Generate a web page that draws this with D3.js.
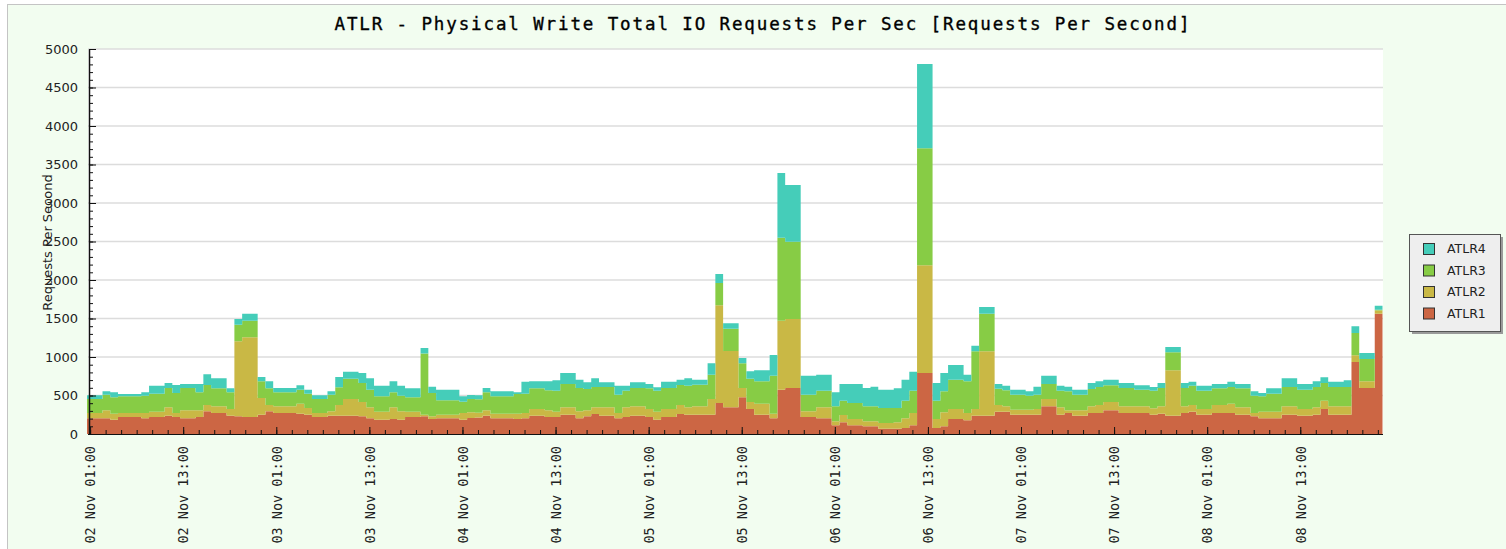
<!DOCTYPE html>
<html>
<head>
<meta charset="utf-8">
<script src="https://cdn.jsdelivr.net/npm/d3@7"></script>
<style>
body { margin: 0; background: #fff; }
</style>
</head>
<body>
<svg id="chart" width="1506" height="549"></svg>
<script>
let series = ["ATLR1", "ATLR2", "ATLR3", "ATLR4"]
let colors = ["#cc6644", "#c9b845", "#87cc45", "#45cdb9"]

// hourly snapshots, starting 02 Nov around 01:00
let atlr1 = [204,204,204,186,221,221,221,204,221,221,238,221,204,204,221,294,273,273,238,229,
  221,221,251,294,273,273,273,264,251,221,221,238,238,238,238,229,204,186,186,195,
  186,221,221,229,195,204,204,204,186,208,215,238,204,204,204,195,204,238,238,221,
  221,251,251,204,229,260,238,238,204,221,238,238,221,186,221,221,260,251,251,251,
  251,403,346,346,476,325,251,251,204,576,598,598,221,221,204,204,113,152,113,113,
  100,100,69,69,69,78,113,792,792,78,100,195,195,178,238,238,238,290,290,251,
  251,251,251,359,359,251,273,238,238,273,273,307,307,273,273,273,273,251,264,238,
  238,273,290,251,251,273,273,273,251,251,229,204,204,204,251,251,238,238,251,325,
  251,251,251,935,598,598,1563]
let atlr2 = [69,69,103,78,52,52,52,69,69,69,108,52,103,103,86,83,86,86,87,975,
  1035,1035,217,83,86,86,86,130,87,52,52,56,139,217,217,187,142,104,104,151,
  108,69,69,22,34,47,47,47,87,73,60,69,60,60,60,69,69,87,87,86,
  69,95,95,90,78,86,108,108,69,125,121,121,104,104,104,104,117,95,108,108,
  204,1268,732,732,122,91,143,143,60,896,896,896,73,73,142,142,52,95,82,82,
  65,65,74,74,83,126,160,1398,1398,117,181,130,130,95,87,836,836,87,69,65,
  65,65,74,96,96,95,34,69,69,86,104,109,109,86,86,86,86,82,95,589,
  589,86,87,74,74,104,104,121,95,95,44,86,86,86,108,108,87,87,95,108,
  108,108,108,87,86,86,42]
let atlr3 = [182,182,204,212,216,216,216,225,234,234,252,260,291,291,234,260,234,234,216,216,
  216,216,216,216,182,182,182,182,186,182,182,217,229,264,264,246,230,199,199,195,
  204,186,186,793,304,186,186,186,147,174,175,234,225,225,225,256,251,268,268,260,
  273,304,304,304,278,265,265,265,238,217,239,239,268,273,273,273,260,282,282,282,
  316,290,290,290,320,303,290,290,494,1076,1002,1002,217,217,217,217,194,186,208,208,
  194,194,195,195,186,229,290,1520,1520,238,273,381,381,411,749,489,489,212,208,195,
  195,182,186,195,195,217,247,204,204,226,234,216,216,239,239,217,217,230,239,234,
  234,239,251,238,238,216,216,217,247,247,225,199,234,234,252,252,251,251,265,229,
  252,252,252,290,290,290,10]
let atlr4 = [47,47,43,65,31,31,31,43,104,104,64,103,52,52,109,138,130,130,52,74,
  91,91,56,91,57,57,57,56,52,47,47,43,134,91,91,130,147,139,139,143,
  130,117,117,73,82,139,139,139,69,52,52,57,65,65,65,21,156,91,91,117,
  134,142,142,108,86,112,60,60,117,65,73,73,57,43,82,82,69,95,65,65,
  147,117,69,69,69,95,143,143,268,842,738,738,247,247,208,208,182,217,247,247,
  239,256,238,238,255,273,247,1095,1095,229,238,190,190,87,73,87,87,61,61,65,
  65,56,104,108,108,65,61,65,65,77,73,74,74,64,64,56,56,48,64,69,
  69,64,52,65,65,57,57,69,57,57,56,44,69,69,112,112,74,74,73,74,
  69,69,86,87,78,78,52]

let tickLabels = ["02 Nov 01:00", "02 Nov 13:00", "03 Nov 01:00", "03 Nov 13:00", "04 Nov 01:00",
  "04 Nov 13:00", "05 Nov 01:00", "05 Nov 13:00", "06 Nov 01:00", "06 Nov 13:00",
  "07 Nov 01:00", "07 Nov 13:00", "08 Nov 01:00", "08 Nov 13:00"]
let yTicks = d3.range(0, 5001, 500)

let parse = d3.timeParse("%Y %d %b %H:%M")
let hour = 3600 * 1000
let tickDates = tickLabels.map(s => parse("2014 " + s))
let start = new Date(tickDates[0].getTime() - 0.4 * hour)
let end = new Date(start.getTime() + atlr1.length * hour)

let rows = atlr1.map((v, i) => ({
    t: new Date(start.getTime() + i * hour),
    ATLR1: v, ATLR2: atlr2[i], ATLR3: atlr3[i], ATLR4: atlr4[i]
}))
// closing point so the last step gets its width
rows.push(Object.assign({}, rows[rows.length - 1], { t: end }))

let stacked = d3.stack().keys(series)(rows)

let svg = d3.select("#chart")
let plotLeft = 88, plotRight = 1383, plotTop = 49, plotBottom = 434

let x = d3.scaleTime()
    .domain([start, end])
    .range([87, 1382.5])

let y = d3.scaleLinear()
    .domain([0, 5000])
    .range([plotBottom, plotTop])

// panel
svg.append("rect")
    .attr("x", 7.5).attr("y", 4.5)
    .attr("width", 1520).attr("height", 560)
    .attr("fill", "#f2fdf0")
    .attr("stroke", "#c4c4c4")

svg.append("rect")
    .attr("x", plotLeft).attr("y", plotTop)
    .attr("width", plotRight - plotLeft).attr("height", plotBottom - plotTop)
    .attr("fill", "#fff")

svg.append("text")
    .attr("x", 762).attr("y", 24)
    .attr("dy", "0.35em")
    .attr("text-anchor", "middle")
    .attr("textLength", 855)
    .attr("lengthAdjust", "spacing")
    .style("font", "17.5px 'DejaVu Sans Mono'")
    .attr("fill", "#000")
    .attr("stroke", "#000")
    .attr("stroke-width", 0.35)
    .text("ATLR - Physical Write Total IO Requests Per Sec [Requests Per Second]")

svg.append("g")
    .selectAll("line")
    .data(yTicks.filter(d => d > 0))
    .enter()
    .append("line")
        .attr("x1", plotLeft).attr("x2", plotRight)
        .attr("y1", d => y(d)).attr("y2", d => y(d))
        .attr("stroke", "#dcdcdc")
        .attr("stroke-width", 1.5)

let area = d3.area()
    .curve(d3.curveStepAfter)
    .x(d => x(d.data.t))
    .y0(d => y(d[0]))
    .y1(d => y(d[1]))

svg.append("g")
    .selectAll("path")
    .data(stacked)
    .enter()
    .append("path")
        .attr("d", area)
        .attr("fill", (d, i) => colors[i])

// y axis, ticks pointing into the plot
svg.append("g")
    .attr("transform", `translate(${plotLeft + 1},0)`)
    .call(d3.axisLeft(y).tickValues(d3.range(0, 5001, 100)).tickSize(-4).tickSizeOuter(0).tickFormat(""))
    .call(g => g.select(".domain").remove())
let yAxis = svg.append("g")
    .attr("transform", `translate(${plotLeft + 1},0)`)
    .call(d3.axisLeft(y).tickValues(yTicks).tickSize(-7).tickSizeOuter(0).tickPadding(11).tickFormat(d3.format("d")))
yAxis.selectAll("text")
    .style("font", "13px 'DejaVu Sans'")
    .attr("fill", "#222")

// x axis
svg.append("g")
    .attr("transform", `translate(0,${plotBottom})`)
    .call(d3.axisBottom(x)
        .tickValues(d3.range(0, 168, 2).map(h => new Date(tickDates[0].getTime() + h * hour)).filter(d => d < end))
        .tickSize(-4).tickSizeOuter(0).tickFormat(""))
    .call(g => g.select(".domain").remove())
let xAxis = svg.append("g")
    .attr("transform", `translate(0,${plotBottom})`)
    .call(d3.axisBottom(x).tickValues(tickDates).tickSize(-7).tickSizeOuter(0).tickFormat((d, i) => tickLabels[i]))
xAxis.select(".domain").attr("d", `M${plotLeft},0.5H${plotRight}`)
xAxis.selectAll("text")
    .attr("transform", "translate(0,12) rotate(-90)")
    .attr("x", 0).attr("y", 0)
    .attr("dy", "0.35em")
    .attr("text-anchor", "end")
    .style("font", "13.5px 'DejaVu Sans Mono'")
    .attr("fill", "#222")

svg.selectAll(".tick line, .domain").attr("stroke", "#111")
yAxis.select(".domain").attr("stroke-width", 1.5)

svg.append("text")
    .attr("transform", "translate(47.5,242.5) rotate(-90)")
    .attr("dy", "0.35em")
    .attr("text-anchor", "middle")
    .style("font", "13px 'DejaVu Sans'")
    .attr("fill", "#222")
    .text("Requests Per Second")

// legend
let legend = svg.append("g").attr("transform", "translate(1409,234)")
legend.append("rect")
    .attr("x", 3).attr("y", 3).attr("width", 91).attr("height", 97)
    .attr("fill", "#9a9a9a")
legend.append("rect")
    .attr("x", 0.5).attr("y", 0.5).attr("width", 91).attr("height", 97)
    .attr("fill", "#eeeeee").attr("stroke", "#555")

let items = legend.selectAll(".item")
    .data(series.slice().reverse())
    .enter()
    .append("g")
        .attr("class", "item")
        .attr("transform", (d, i) => `translate(0,${15 + i * 21.5})`)
items.append("rect")
    .attr("x", 14.5).attr("y", -5.5).attr("width", 11).attr("height", 11)
    .attr("fill", d => colors[series.indexOf(d)])
    .attr("stroke", "#333")
items.append("text")
    .attr("x", 38).attr("dy", "0.35em")
    .style("font", "12.5px 'DejaVu Sans'")
    .attr("fill", "#222")
    .text(d => d)
</script>
</body>
</html>
